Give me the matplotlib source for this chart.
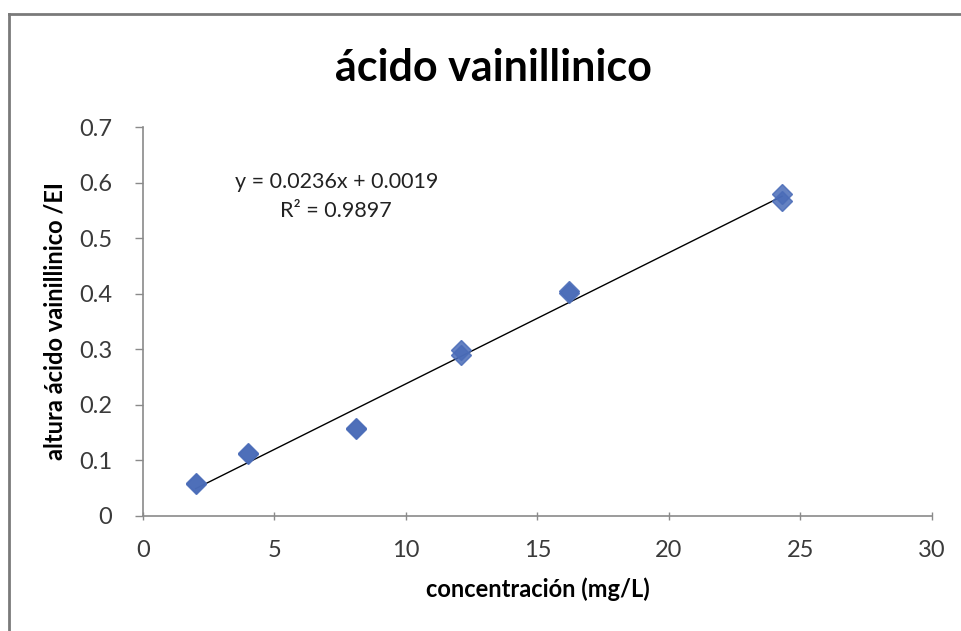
import numpy as np
import matplotlib
matplotlib.use('Agg')
import matplotlib.pyplot as plt
from matplotlib.lines import Line2D

# concentration (mg/L) and peak height ratio, replicates per level
conc = [2.0, 2.0, 4.0, 4.0, 8.1, 8.1, 12.1, 12.1, 16.2, 16.2, 24.3, 24.3]
altura = [0.058, 0.059, 0.111, 0.113, 0.156, 0.159, 0.289, 0.298, 0.401, 0.405, 0.567, 0.580]

# Excel linear trendline as shown on the chart
slope = 0.0236
intercept = 0.0019
eq_text = 'y = 0.0236x + 0.0019\nR² = 0.9897'

x_ticks = [0, 5, 10, 15, 20, 25, 30]
y_ticks = [0, 0.1, 0.2, 0.3, 0.4, 0.5, 0.6, 0.7]
y_labels = ['0', '0.1', '0.2', '0.3', '0.4', '0.5', '0.6', '0.7']

plt.rcParams['font.family'] = ['Lato', 'DejaVu Sans']

fig = plt.figure(figsize=(9.61, 6.31), dpi=100)
ax = fig.add_axes([0.1488, 0.1823, 0.821, 0.6164])

xfit = np.array([min(conc), max(conc)])
ax.plot(xfit, slope * xfit + intercept, color='black', lw=1.0, zorder=2)
ax.plot(conc, altura, linestyle='none', marker='D', markersize=10.5,
        color='#4a6cb8', markeredgecolor='#4a6cb8', alpha=0.85, zorder=3)

ax.set_xlim(0, 30)
ax.set_ylim(0, 0.7)
ax.set_xticks(x_ticks)
ax.set_yticks(y_ticks)
ax.set_yticklabels(y_labels)
ax.tick_params(axis='both', labelsize=17, colors='#8a8a8a', labelcolor='#3a3a3a',
               length=6, width=1)
ax.tick_params(axis='x', direction='inout', pad=14)
ax.tick_params(axis='y', direction='out', pad=16)
for s in ['top', 'right']:
    ax.spines[s].set_visible(False)
for s in ['left', 'bottom']:
    ax.spines[s].set_color('#8a8a8a')
    ax.spines[s].set_linewidth(1.2)

ax.set_xlabel('concentración (mg/L)', fontsize=17, fontweight='bold', labelpad=12)
ax.set_ylabel('altura ácido vainillinico /EI', fontsize=17, fontweight='bold')
ax.yaxis.set_label_coords(-0.097, 0.5)
ax.text(0.245, 0.822, eq_text, transform=ax.transAxes, fontsize=15.5,
        ha='center', va='center', linespacing=1.55, color='#222222')

fig.text(0.513, 0.893, 'ácido vainillinico', fontsize=31, fontweight='bold',
         ha='center', va='center')

# outer chart frame (only top and left edges are visible)
fig.add_artist(Line2D([9 / 961, 1.0], [1 - 14 / 631, 1 - 14 / 631],
                      transform=fig.transFigure, color='#7a7a7a', lw=2))
fig.add_artist(Line2D([9 / 961, 9 / 961], [0.0, 1 - 14 / 631],
                      transform=fig.transFigure, color='#7a7a7a', lw=2))

fig.savefig('out.png', dpi=100)
